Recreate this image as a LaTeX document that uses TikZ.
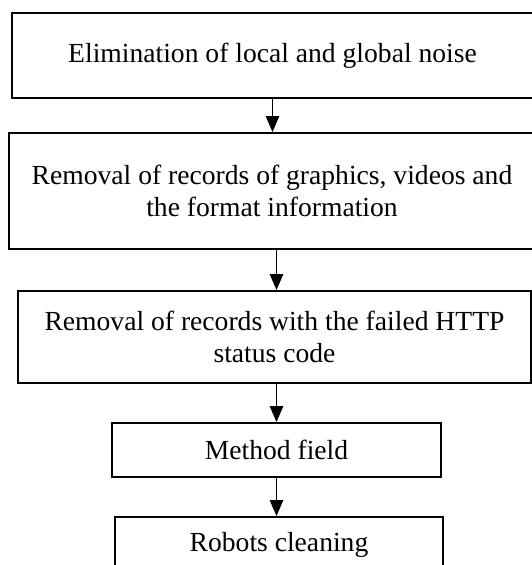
\documentclass[tikz,border=0pt]{standalone}
\usepackage{fontspec}
\setmainfont{Liberation Serif}
\usepackage{tikz}
\usetikzlibrary{arrows.meta,positioning}

\begin{document}
\begin{tikzpicture}[x=0.75pt,y=-0.75pt,
  stepbox/.style={draw,line width=1.4pt,inner sep=0pt,align=center,
    font=\fontsize{20.7}{23.5}\selectfont},
  flowarrow/.style={line width=1.3pt,-{Triangle[length=12pt,width=10pt]}}]
\useasboundingbox (0,0) rectangle (532,565);

% Boxes
\node[stepbox,minimum width=390.75pt,minimum height=63.75pt] (noise) at (272.5,55.5)
  {Elimination of local and global noise};
\node[stepbox,minimum width=394.5pt,minimum height=87pt] (graphics) at (272,191)
  {Removal of records of graphics, videos and\\the format information};
\node[stepbox,minimum width=384.75pt,minimum height=69pt] (http) at (274.5,337)
  {Removal of records with the failed HTTP\\status code};
\node[stepbox,minimum width=246.75pt,minimum height=40.5pt] (method) at (276.5,450)
  {Method field};
\node[stepbox,minimum width=246pt,minimum height=42pt] (robots) at (279,545)
  {Robots cleaning};

% Arrows
\draw[flowarrow] (noise.south) -- (noise.south |- graphics.north);
\draw[flowarrow] (method.north |- graphics.south) -- (method.north |- http.north);
\draw[flowarrow] (method.north |- http.south) -- (method.north);
\draw[flowarrow] (method.south) -- (method.south |- robots.north);
\end{tikzpicture}
\end{document}
